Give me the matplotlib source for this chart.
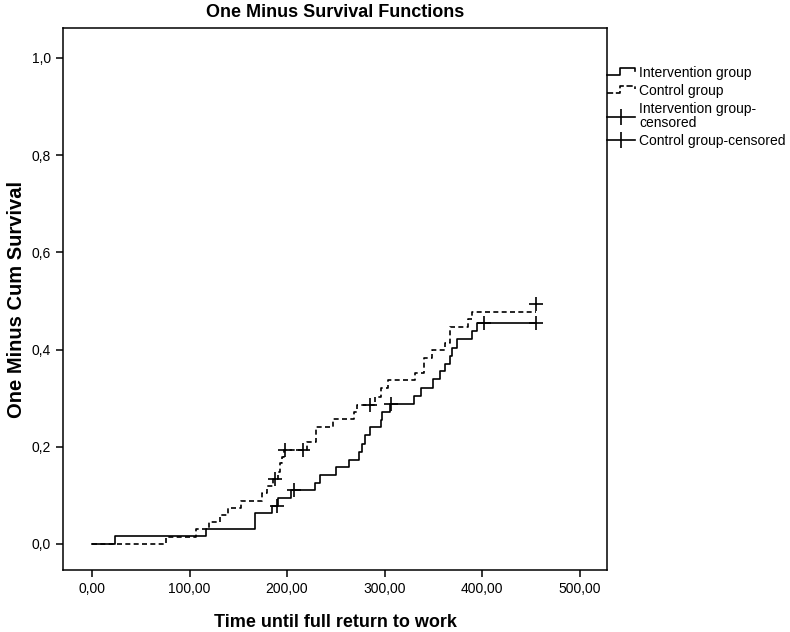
import matplotlib
matplotlib.use("Agg")
import matplotlib.pyplot as plt
from matplotlib.lines import Line2D
from matplotlib.legend_handler import HandlerBase

plt.rcParams['font.family'] = ['Liberation Sans', 'DejaVu Sans']

# intervention group: event times and 1 - survival
int_t = [0, 24, 117, 167, 185, 191, 204, 229, 234, 250, 264, 274, 277, 280, 285,
         296, 297, 306, 330, 337, 350, 357, 362, 367, 369, 374, 390, 395, 455]
int_y = [0, 0.016, 0.030, 0.063, 0.078, 0.095, 0.111, 0.125, 0.142, 0.158, 0.173,
         0.190, 0.206, 0.224, 0.241, 0.256, 0.272, 0.288, 0.305, 0.322, 0.339,
         0.355, 0.371, 0.387, 0.403, 0.421, 0.439, 0.455, 0.455]
int_cens_t = [190, 207, 307, 401.6, 455]
int_cens_y = [0.078, 0.111, 0.288, 0.455, 0.455]

# control group
ctl_t = [0, 76, 107, 120, 131, 139, 153, 174, 179, 186, 191, 193, 195, 197, 220,
         230, 247, 269, 272, 290, 296, 303, 331, 340, 349, 362, 367, 386, 390, 455]
ctl_y = [0, 0.015, 0.030, 0.046, 0.060, 0.075, 0.089, 0.104, 0.119, 0.133, 0.149,
         0.166, 0.180, 0.193, 0.210, 0.241, 0.257, 0.272, 0.286, 0.303, 0.320,
         0.337, 0.351, 0.382, 0.399, 0.414, 0.447, 0.462, 0.478, 0.478]
ctl_cens_t = [188, 198, 216, 285, 455]
ctl_cens_y = [0.133, 0.193, 0.193, 0.286, 0.494]

x_ticks = [0, 100, 200, 300, 400, 500]
x_labels = ["0,00", "100,00", "200,00", "300,00", "400,00", "500,00"]
y_ticks = [0, 0.2, 0.4, 0.6, 0.8, 1.0]
y_labels = ["0,0", "0,2", "0,4", "0,6", "0,8", "1,0"]

DASH = (0, (3, 2))
LW = 1.2


class StepHandler(HandlerBase):
    # little step symbol like the SPSS legend
    def create_artists(self, legend, orig_handle, xdescent, ydescent,
                       width, height, fontsize, trans):
        x0 = -xdescent
        y0 = -ydescent
        xs = [x0, x0 + 0.45 * width, x0 + 0.45 * width, x0 + width, x0 + width]
        ys = [y0 + 0.2 * height, y0 + 0.2 * height, y0 + 0.95 * height,
              y0 + 0.95 * height, y0 + 0.6 * height]
        l = Line2D(xs, ys, color='black', lw=LW,
                   linestyle=orig_handle.get_linestyle())
        l.set_transform(trans)
        return [l]


fig = plt.figure(figsize=(7.9, 6.32), dpi=100)
ax = fig.add_axes([63 / 790, 1 - 570 / 632, 544 / 790, 542 / 632])

ax.step(int_t, int_y, where='post', color='black', lw=LW)
ax.step(ctl_t, ctl_y, where='post', color='black', lw=LW, linestyle=DASH)
ax.plot(int_cens_t, int_cens_y, '+', color='black', ms=10, mew=1.2)
ax.plot(ctl_cens_t, ctl_cens_y, '+', color='black', ms=10, mew=1.2)

ax.set_xlim(-29.7, 528)
ax.set_ylim(-0.0535, 1.0617)
ax.set_xticks(x_ticks)
ax.set_xticklabels(x_labels)
ax.set_yticks(y_ticks)
ax.set_yticklabels(y_labels)
ax.tick_params(direction='out', length=5, width=1.1, labelsize=10)
for s in ax.spines.values():
    s.set_linewidth(1.1)

ax.set_title("One Minus Survival Functions", fontsize=13, fontweight='bold', pad=8)
ax.set_xlabel("Time until full return to work", fontsize=13, fontweight='bold', labelpad=13)
ax.set_ylabel("One Minus Cum Survival", fontsize=14.5, fontweight='bold', labelpad=4)

h1 = Line2D([], [], color='black', lw=LW)
h2 = Line2D([], [], color='black', lw=LW, linestyle=DASH)
h3 = Line2D([], [], color='black', lw=LW, marker='|', ms=12, mew=1.2)
h4 = Line2D([], [], color='black', lw=LW, marker='|', ms=12, mew=1.2)
leg = fig.legend([h1, h2, h3, h4],
                 ["Intervention group", "Control group",
                  "Intervention group-\ncensored", "Control group-censored"],
                 handler_map={h1: StepHandler(), h2: StepHandler()},
                 loc='upper left', bbox_to_anchor=(607 / 790, 1 - 66 / 632),
                 frameon=False, fontsize=10, borderpad=0, borderaxespad=0,
                 handlelength=2.0, handletextpad=0.3, labelspacing=0.3)
for t in leg.get_texts():
    t.set_linespacing(0.95)

fig.savefig("out.png", dpi=100)
